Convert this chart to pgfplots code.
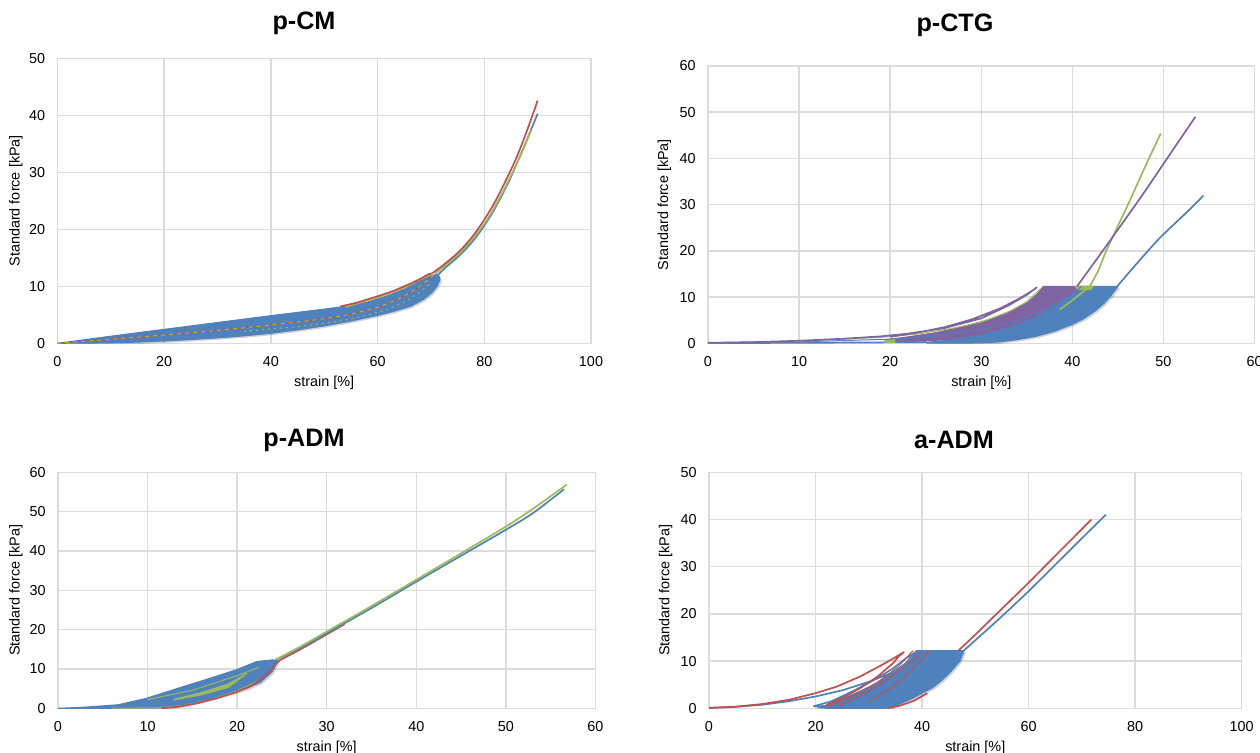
\documentclass[border=0pt]{standalone}
\usepackage{fontspec}
\setmainfont{Liberation Sans}
\usepackage{pgfplots}
\pgfplotsset{compat=1.18}

\definecolor{xblue}{HTML}{4F81BD}
\definecolor{xred}{HTML}{C0504D}
\definecolor{xgreen}{HTML}{9BBB59}
\definecolor{xpurple}{HTML}{8064A2}
\definecolor{gridgray}{HTML}{DCDCDC}

\pgfplotsset{
  panel/.style={
    scale only axis, anchor=south west,
    axis line style={draw=gridgray, line width=0.75pt},
    grid=major, major grid style={draw=gridgray, line width=0.75pt},
    major tick length=0pt,
    tick label style={font=\fontsize{7.2}{8.5}\selectfont},
    label style={font=\fontsize{7.2}{8.5}\selectfont},
    xticklabel style={anchor=center, inner sep=0pt, yshift=-9pt},
    yticklabel style={anchor=east, inner sep=0pt, xshift=-6pt},
    xlabel={strain [\%]}, ylabel={Standard force [kPa]},
    xlabel style={at={(axis description cs:0.5,0)}, anchor=center, yshift=-19.5pt},
    /pgf/number format/assume math mode=true,
  },
  bfill/.style={fill=#1, draw=#1, line width=0.5pt, line join=round},
  shade/.style={fill=black, fill opacity=0.18, draw=none, xshift=0.9pt, yshift=-0.9pt, forget plot},
  ln/.style={draw=#1, line width=0.85pt, line join=round, mark=none},
  thin/.style={draw=#1, line width=0.5pt, line join=round, mark=none},
}

\begin{document}
\begin{tikzpicture}
\path[use as bounding box] (0,0) rectangle (630pt,376.5pt);

% ---------------- p-CM ----------------
\begin{axis}[panel, at={(28.75pt,204.85pt)}, width=266.75pt, height=142.5pt,
  xmin=0, xmax=100, ymin=0, ymax=50, xtick={0,20,...,100}, ytick={0,10,...,50},
  ylabel style={at={([xshift=-20.75pt]axis description cs:0,0.5)}, anchor=center}]
\addplot[shade] coordinates {(0,0) (10,1.25) (20,2.45) (30,3.65) (40,4.85) (50,6.0) (54,6.5) (58,7.2) (62,8.4) (65,9.5) (68,11.0) (70,11.9) (71.4,12.1) (71.7,11.2) (71.2,10.1) (70.2,8.9) (68.6,7.7) (66.2,6.5) (63,5.6) (60,4.9) (55,3.9) (50,3.05) (45,2.35) (40,1.75) (35,1.3) (30,0.95) (25,0.65) (20,0.4) (15,0.2) (10,0.08) (5,0.02) (0,0)} -- cycle;
\addplot[bfill=xblue] coordinates {(0,0) (10,1.25) (20,2.45) (30,3.65) (40,4.85) (50,6.0) (54,6.5) (58,7.2) (62,8.4) (65,9.5) (68,11.0) (70,11.9) (71.4,12.1) (71.7,11.2) (71.2,10.1) (70.2,8.9) (68.6,7.7) (66.2,6.5) (63,5.6) (60,4.9) (55,3.9) (50,3.05) (45,2.35) (40,1.75) (35,1.3) (30,0.95) (25,0.65) (20,0.4) (15,0.2) (10,0.08) (5,0.02) (0,0)} -- cycle;
\addplot[thin=xred] coordinates {(0,0) (10,0.7) (20,1.45) (30,2.25) (40,3.2) (50,4.3) (55,5.1) (60,6.3) (64,7.8) (67,9.4) (69,10.8) (70.5,12)};
\addplot[thin=xgreen, dash pattern=on 2pt off 2pt] coordinates {(0,0) (10,0.7) (20,1.45) (30,2.25) (40,3.2) (50,4.3) (55,5.1) (60,6.3) (64,7.8) (67,9.4) (69,10.8) (70.5,12)};
\addplot[thin=xgreen, dash pattern=on 1pt off 2pt] coordinates {(35,2.1) (45,2.9) (53,3.9) (58,4.9) (62,6.0) (65,7.2) (68,9) (70,10.6)};
\addplot[ln=xgreen] coordinates {(54,6.35) (58,7.5) (62,8.7) (65,9.8) (68,11.2) (70,12.1)};
\addplot[ln=xred] coordinates {(53,6.45) (56,7.1) (60,8.25) (63,9.2) (66,10.4) (68,11.3) (69.5,12.1) (70.3,12.3)};
\addplot[ln=xblue, smooth] coordinates {(71.3,12) (73,13.5) (75,15.1) (77,17) (79,19.3) (81,22.1) (83,25.4) (85,29.2) (87,33.5) (89,38) (90,40.3)};
\addplot[ln=xgreen, smooth] coordinates {(70.8,12.2) (73,13.9) (75,15.5) (77,17.4) (79,19.7) (81,22.4) (83,25.7) (85,29.4) (87,33.4) (88.8,37.4)};
\addplot[ln=xred, smooth] coordinates {(70.3,12.3) (72,13.5) (74,15) (76,16.8) (78,19) (80,21.7) (82,24.8) (84,28.5) (86,32.5) (88,37.3) (90,42.6)};
\end{axis}

% ---------------- p-CTG ----------------
\begin{axis}[panel, at={(354pt,204.85pt)}, width=273.3pt, height=138.65pt,
  xmin=0, xmax=60, ymin=0, ymax=60, xtick={0,10,...,60}, ytick={0,10,...,60},
  ylabel style={at={([xshift=-21.75pt]axis description cs:0,0.5)}, anchor=center}]
\addplot[bfill=xpurple] coordinates {(20,0.3) (24,0.5) (27,0.9) (30,1.6) (33,2.8) (35.5,4.3) (37.5,6.2) (39,8) (40.3,10) (41.3,12.3) (36.8,12.3) (36.2,10.8) (35.2,9) (33.5,7.2) (31,5.2) (28,3.6) (25,2.3) (22,1.4) (20,0.9)} -- cycle;
\addplot[shade] coordinates {(24,0.2) (27,0.8) (30,1.8) (33,3.3) (36,5.6) (38.5,8.5) (40.5,11) (41.5,12.3) (45,12.3) (44.3,10.5) (43.5,8.7) (42.5,7) (41.3,5.4) (40,4.1) (38,2.6) (36,1.5) (34,0.8) (32,0.3) (30,0.08) (27,0.02) (24,0.05)} -- cycle;
\addplot[bfill=xblue] coordinates {(24,0.2) (27,0.8) (30,1.8) (33,3.3) (36,5.6) (38.5,8.5) (40.5,11) (41.5,12.3) (45,12.3) (44.3,10.5) (43.5,8.7) (42.5,7) (41.3,5.4) (40,4.1) (38,2.6) (36,1.5) (34,0.8) (32,0.3) (30,0.08) (27,0.02) (24,0.05)} -- cycle;
\addplot[ln=xblue] coordinates {(0,0.05) (10,0.1) (20,0.2) (24,0.25)};
\addplot[bfill=xgreen] coordinates {(19.4,0.2) (20.5,0.2) (20.5,0.9) (19.4,0.8)} -- cycle;
\addplot[bfill=xgreen] coordinates {(40.3,12.35) (42.3,12.35) (42,11.6) (40.6,11.6)} -- cycle;
\addplot[thin=xblue] coordinates {(0,0.05) (10,0.3) (20,0.9) (25,1.6) (30,3.0) (34,5.0) (37,7.4) (39.5,10) (41,12.3)};
\addplot[thin=xgreen] coordinates {(0,0.08) (10,0.45) (19,1.3) (23,2.0) (27,3.3) (30,4.6) (33,6.8) (35,9) (36.5,11.8)};
\addplot[ln=xpurple] coordinates {(0,0.1) (5,0.25) (10,0.55) (15,1.0) (19,1.5) (22,2.1) (26,3.3) (30,5.4) (33,8.2) (35,10.5) (36.1,12.1) (35.3,11.0) (34,9.5) (32,7.5) (29,5.2) (26,3.5) (23,2.3) (20,1.4)};
\addplot[ln=xgreen] coordinates {(38.6,7.3) (40,9.3) (41.9,12.3) (42.8,15.5) (43.7,20) (46.1,30) (48.4,40) (49.7,45.4)};
\addplot[ln=xpurple, smooth] coordinates {(40.5,12.3) (43,19.1) (45.5,26.0) (48,33.0) (50.5,40.3) (53.5,49)};
\addplot[ln=xblue, smooth] coordinates {(44.9,12.3) (46.3,15.5) (47.8,18.9) (49.5,22.6) (51.5,26.4) (53,29.2) (54.4,32)};
\end{axis}

% ---------------- p-ADM ----------------
\begin{axis}[panel, at={(29pt,22.35pt)}, width=268.75pt, height=118pt,
  xmin=0, xmax=60, ymin=0, ymax=60, xtick={0,10,...,60}, ytick={0,10,...,60},
  ylabel style={at={([xshift=-21pt]axis description cs:0,0.5)}, anchor=center}]
\addplot[shade] coordinates {(0,0) (3,0.3) (6.7,0.9) (9.8,2.5) (13.4,5.1) (16.5,7.3) (19.9,9.8) (22.2,11.9) (23.9,12.3) (24.5,12.2) (24.4,11.5) (23.9,9.3) (22.6,6.6) (21.2,5.2) (19.9,4.2) (16.9,2.3) (13.8,0.6) (11.2,0.05) (6,0)} -- cycle;
\addplot[bfill=xblue] coordinates {(0,0) (3,0.3) (6.7,0.9) (9.8,2.5) (13.4,5.1) (16.5,7.3) (19.9,9.8) (22.2,11.9) (23.9,12.3) (24.5,12.2) (24.4,11.5) (23.9,9.3) (22.6,6.6) (21.2,5.2) (19.9,4.2) (16.9,2.3) (13.8,0.6) (11.2,0.05) (6,0)} -- cycle;
\addplot[bfill=xgreen] coordinates {(12.9,2.1) (16,3.4) (19,5.3) (21.1,8.9) (19,6.2) (16,4.0) (13,2.3)} -- cycle;
\addplot[thin=xgreen] coordinates {(10,2.2) (15,4.6) (20,8.3) (22.5,10.5)};
\addplot[thin=xgreen] coordinates {(6,0.05) (11,0.1) (14,0.7) (17,2.2) (20,4.4) (22.5,7.2)};
\addplot[ln=xred] coordinates {(11.5,0) (13.5,0.4) (15.6,1.3) (17.8,2.6) (19.9,4.1) (21.5,5.6) (22.6,7.3) (23.6,9.3) (24.4,11.4) (24.8,12.3)};
\addplot[ln=xred, smooth] coordinates {(24.8,12.3) (27,14.9) (30,18.8) (32,21.4)};
\addplot[ln=xblue, smooth] coordinates {(24.3,12.3) (27,15.3) (30,19.1) (35,25.5) (40,32.2) (45,38.8) (50,45.4) (53,49.6) (56.5,55.7)};
\addplot[ln=xgreen, smooth] coordinates {(24.3,12.4) (27,15.6) (30,19.5) (35,26.0) (40,32.7) (45,39.4) (50,46.2) (53,50.7) (56.8,56.9)};
\end{axis}

% ---------------- a-ADM ----------------
\begin{axis}[panel, at={(354.5pt,22.35pt)}, width=266.3pt, height=118pt,
  xmin=0, xmax=100, ymin=0, ymax=50, xtick={0,20,...,100}, ytick={0,10,...,50},
  ylabel style={at={([xshift=-21.7pt]axis description cs:0,0.5)}, anchor=center}]
\addplot[shade] coordinates {(19.6,0.4) (22,0.6) (25.2,2.1) (28.5,3.7) (31.4,5.3) (34,7.3) (36.4,8.9) (38,10.4) (38.9,12.2) (47.9,12.2) (47.1,10) (45.5,7.9) (43.8,6) (42,4.4) (40,3.2) (38,2.0) (36,1.0) (34.5,0.3) (33,0) (22,0)} -- cycle;
\addplot[bfill=xblue] coordinates {(19.6,0.4) (22,0.6) (25.2,2.1) (28.5,3.7) (31.4,5.3) (34,7.3) (36.4,8.9) (38,10.4) (38.9,12.2) (47.9,12.2) (47.1,10) (45.5,7.9) (43.8,6) (42,4.4) (40,3.2) (38,2.0) (36,1.0) (34.5,0.3) (33,0) (22,0)} -- cycle;
\addplot[ln=xblue] coordinates {(0,0.05) (5,0.3) (10,0.75) (15,1.5) (20,2.5) (25,3.8) (30,5.6) (34.6,7.6) (37,9.6) (38.6,11.8) (37,10.6) (34.5,8.4) (31,6) (27,3.6) (23,1.5) (19.6,0.4)};
\addplot[ln=xred] coordinates {(0,0.1) (5,0.35) (10,0.9) (15,1.8) (20,3.2) (24,4.6) (28.3,6.7) (32,8.9) (34.5,10.5) (36.6,11.9) (35.6,11.0) (34.6,9.6) (31.5,6.6) (28.3,4.2) (25,2.2) (22,0.7)};
\addplot[thin=xred] coordinates {(22,0.3) (25,1.6) (28.5,3.4) (32,5.8) (35.5,8.8) (38.3,12.2)};
\addplot[thin=xred] coordinates {(24,0.3) (28,2.4) (32,4.9) (35.5,7.8) (38.5,10.4) (40,12.2)};
\addplot[thin=xred] coordinates {(30,1.4) (34,4.2) (37.5,7.5) (40.2,10.5) (41.3,12.2)};
\addplot[ln=xred] coordinates {(33.5,0) (36,0.6) (38.5,1.6) (41,3.2)};
\addplot[ln=xblue, smooth] coordinates {(47.7,12.1) (50,14.4) (55,19.5) (60,24.8) (65,30.4) (70,36) (74.5,41)};
\addplot[ln=xred, smooth] coordinates {(46.8,12.2) (50,15.6) (55,21.1) (60,26.6) (65,32.3) (71.8,40)};
\end{axis}

\node[font=\bfseries\fontsize{12.6}{15}\selectfont] at (152pt,365pt) {p-CM};
\node[font=\bfseries\fontsize{12.6}{15}\selectfont] at (477.5pt,364pt) {p-CTG};
\node[font=\bfseries\fontsize{12.6}{15}\selectfont] at (152pt,156.5pt) {p-ADM};
\node[font=\bfseries\fontsize{12.6}{15}\selectfont] at (477pt,156.5pt) {a-ADM};
\end{tikzpicture}
\end{document}
